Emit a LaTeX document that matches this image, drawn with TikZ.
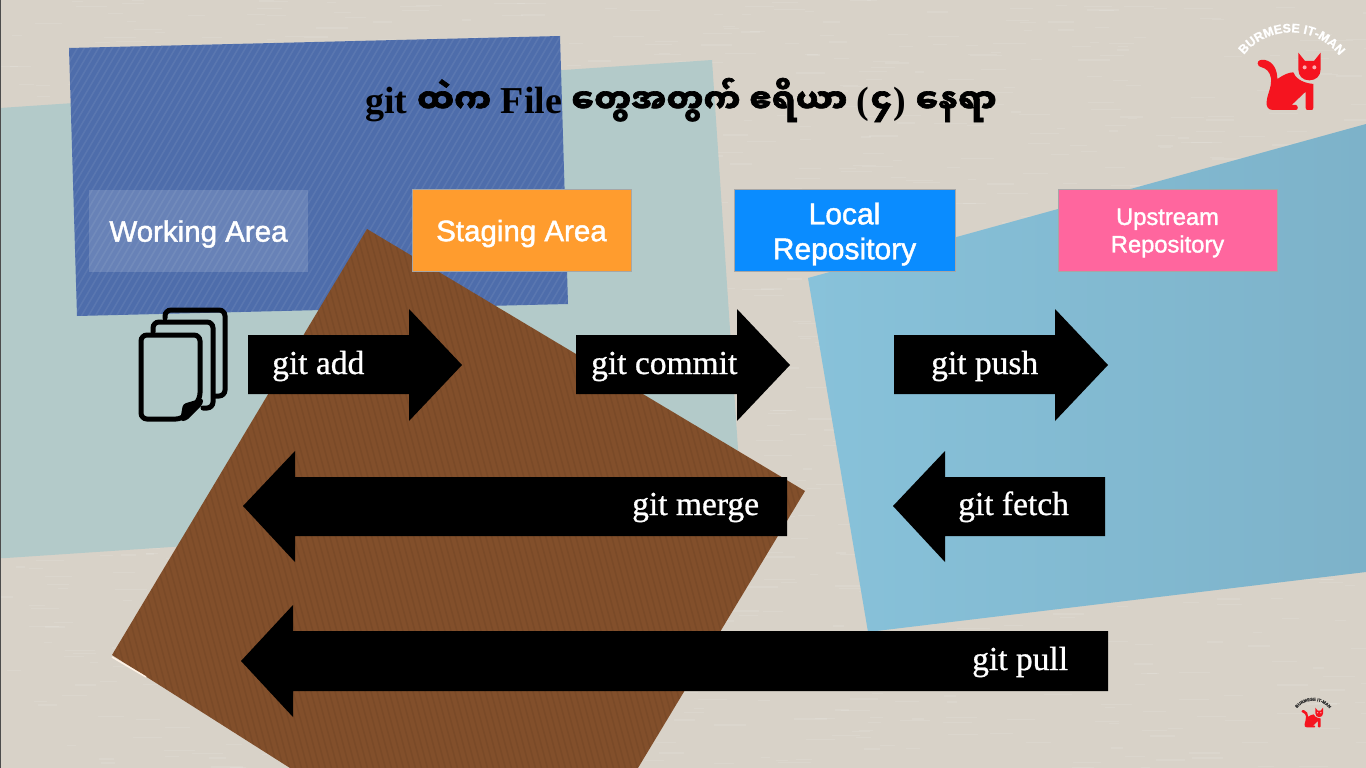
\documentclass[tikz,border=0pt]{standalone}
\usepackage{fontspec}
\usetikzlibrary{decorations.text}
\setmainfont{Liberation Serif}
\newfontfamily\boxfont[FakeBold=1.5]{Liberation Sans}
\newfontfamily\logofont[FakeBold=1]{Liberation Sans}
\newfontfamily\gitfont[FakeBold=.8]{Liberation Serif}
\newfontfamily\mmfont[Script=Myanmar,FakeBold=2]{Noto Sans Myanmar UI}
\definecolor{paper}{HTML}{D8D2C8}
\definecolor{tealsheet}{HTML}{B3CAC9}
\definecolor{bluesheet}{HTML}{4E6DAB}
\definecolor{brownsheet}{HTML}{824F2B}
\definecolor{skyleft}{HTML}{88C2DA}
\definecolor{skyright}{HTML}{7DB2C9}
\definecolor{stagingorange}{HTML}{FF9C2E}
\definecolor{localblue}{HTML}{0A8CFF}
\definecolor{upstreampink}{HTML}{FF669E}
\definecolor{catred}{HTML}{F5141F}
\tikzset{
  areabox/.style={minimum width=219pt,minimum height=82pt,inner sep=0pt,draw=black!35,line width=.5pt},
  boxtext/.style={inner sep=0pt,text=white,align=center},
  blockarrow/.style={fill=black},
  gitlabel/.style={anchor=base west,inner sep=0pt,text=white,font=\gitfont\fontsize{33.5}{36}\selectfont},
  filepage/.style={draw=black,line width=5pt,rounded corners=6pt,line cap=round}
}
% logo: x, y, scale of the cat, text colour, text size
\newcommand{\catlogo}[5]{
  \begin{scope}[shift={(#1,#2)},x=#3pt,y=-#3pt]
    \fill[catred] (113,160) .. controls (113,150) and (125,148) .. (135,150)
      .. controls (160,155) and (172,180) .. (172,207)
      .. controls (190,195) and (205,187) .. (220,187)
      .. controls (225,200) and (240,218) .. (280,222) -- (280,293)
      .. controls (280,298) and (278,300) .. (274,300) -- (263,300)
      .. controls (259,300) and (257,298) .. (257,293) -- (257,245)
      -- (215,285) -- (228,285) .. controls (235,287) and (235,300) .. (228,300)
      -- (158,300) .. controls (145,300) and (138,290) .. (140,275)
      .. controls (142,250) and (155,235) .. (153,205)
      .. controls (150,185) and (138,175) .. (125,172)
      .. controls (118,170) and (113,167) .. (113,160) -- cycle;
    \fill[catred] (235,128) -- (255,153) -- (282,153) -- (302,128) -- (302,178)
      .. controls (302,198) and (288,211) .. (268,211)
      .. controls (248,211) and (235,198) .. (235,178) -- cycle;
    \fill[catred!35!white] (254,172) circle[radius=6];
    \fill[catred!35!white] (283,172) circle[radius=6];
    \path[decorate,decoration={text along path,text align=center,
        text={|\logofont\bfseries\fontsize{#5}{#5}\selectfont\color{#4}|BURMESE IT-MAN}}]
      (58,155) .. controls (125,40) and (300,35) .. (372,158);
  \end{scope}
}
\begin{document}
\begin{tikzpicture}[x=1pt,y=-1pt]
  \useasboundingbox (0,0) rectangle (1366,768);
  \clip (0,0) rectangle (1366,768);
  \fill[paper] (0,0) rectangle (1366,768);
  \pgfmathsetseed{7}
  \foreach \i in {1,...,1500}
    \draw[white,opacity=.1,line width=1.2pt] ({rnd*1366},{rnd*768}) -- ++({8+rnd*25},0);
  % paper sheets
  \fill[tealsheet] (0,108) -- (712,60) -- (742,509) -- (6,558) -- (0,558) -- cycle;
  \shade[left color=skyleft,right color=skyright] (808,278) -- (1366,124) -- (1366,572) -- (868,632) -- cycle;
  \fill[bluesheet] (69,48) -- (560,36) -- (568,304) -- (77,316) -- cycle;
  \begin{scope}
    \clip (69,48) -- (560,36) -- (568,304) -- (77,316) -- cycle;
    \foreach \s in {-110,-103,...,760}
      \draw[white,opacity=.07,line width=1.5pt] (\s,320) -- ++(170,-290);
  \end{scope}
  \fill[brownsheet] (367,229) -- (805,491) -- (638,768) -- (290,768) -- (112,655) -- cycle;
  \begin{scope}
    \clip (367,229) -- (805,491) -- (638,768) -- (290,768) -- (112,655) -- cycle;
    \foreach \s in {-60,-54,...,860}
      \draw[black,opacity=.06,line width=1.5pt] (\s,200) -- ++(160,600);
  \end{scope}
  \draw[white!90!orange,line width=1.5pt] (112,657) -- (146,677);
  \fill[black!70] (0,0) rectangle (1.2,768);
  % title
  \node[inner sep=0pt] (title) at (681,100) {\fontsize{38}{40}\selectfont\bfseries git {\mmfont\fontsize{33.3}{40}\selectfont ထဲက} File {\mmfont\fontsize{33.3}{40}\selectfont တွေအတွက် ဧရိယာ} (\kern1pt{\mmfont\fontsize{33.3}{40}\selectfont ၄}\kern1pt) {\mmfont\fontsize{33.3}{40}\selectfont နေရာ}};
  % four areas
  \node[areabox,fill=white,fill opacity=.15,draw=none] (working) at (198.5,231) {};
  \node[areabox,fill=stagingorange] (staging) at (521.5,230.5) {};
  \node[areabox,fill=localblue,minimum width=221pt] (local) at (844.5,230.5) {};
  \node[areabox,fill=upstreampink] (upstream) at (1167.5,230.5) {};
  \node[boxtext,font=\boxfont\fontsize{29.5}{34}\selectfont] (workingtext) at ([yshift=-3pt]working) {Working Area};
  \node[boxtext,font=\boxfont\fontsize{29.5}{34}\selectfont] (stagingtext) at ([yshift=-3pt]staging) {Staging Area};
  \node[boxtext,font=\boxfont\fontsize{30}{35}\selectfont] (localtext) at ([yshift=-3.5pt]local) {Local\\Repository};
  \node[boxtext,font=\boxfont\fontsize{23.7}{27.5}\selectfont] (upstreamtext) at ([yshift=-2.5pt]upstream) {Upstream\\Repository};
  % files
  \draw[filepage] (165,318) -- (165,310) -- (225,310) -- (225,396) -- (215,396);
  \draw[filepage] (153,332) -- (153,322) -- (213,322) -- (213,408) -- (203,408);
  \draw[filepage] (141,335) -- (200,335) -- (200,399) -- (182,419) -- (141,419) -- cycle;
  \fill[black,rounded corners=3pt] (180,421) -- (183,404) -- (203,398) -- (203,404) -- (186,421) -- cycle;
  % arrows
  \foreach \x in {248,576,894}
    \fill[blockarrow] (\x,335) -- (\x+161,335) -- (\x+161,309) -- (\x+214,365) -- (\x+161,421) -- (\x+161,394) -- (\x,394) -- cycle;
  \fill[blockarrow] (243,506) -- (295,451) -- (295,477) -- (787,477) -- (787,536) -- (295,536) -- (295,562) -- cycle;
  \fill[blockarrow] (893,506) -- (945,451) -- (945,477) -- (1105,477) -- (1105,536) -- (945,536) -- (945,562) -- cycle;
  \fill[blockarrow] (241,661) -- (293,605) -- (293,631) -- (1108,631) -- (1108,691) -- (293,691) -- (293,717) -- cycle;
  \node[gitlabel] (add) at (272,374) {git add};
  \node[gitlabel] (commit) at (591,374) {git commit};
  \node[gitlabel] (push) at (931,374) {git push};
  \node[gitlabel] (merge) at (632,515) {git merge};
  \node[gitlabel] (fetch) at (958,515) {git fetch};
  \node[gitlabel] (pull) at (972,670) {git pull};
  % logos
  \catlogo{1220}{10}{.3333}{white}{12.5}
  \catlogo{1288.6}{693.1}{.114}{black!80}{4.2}
\end{tikzpicture}
\end{document}
